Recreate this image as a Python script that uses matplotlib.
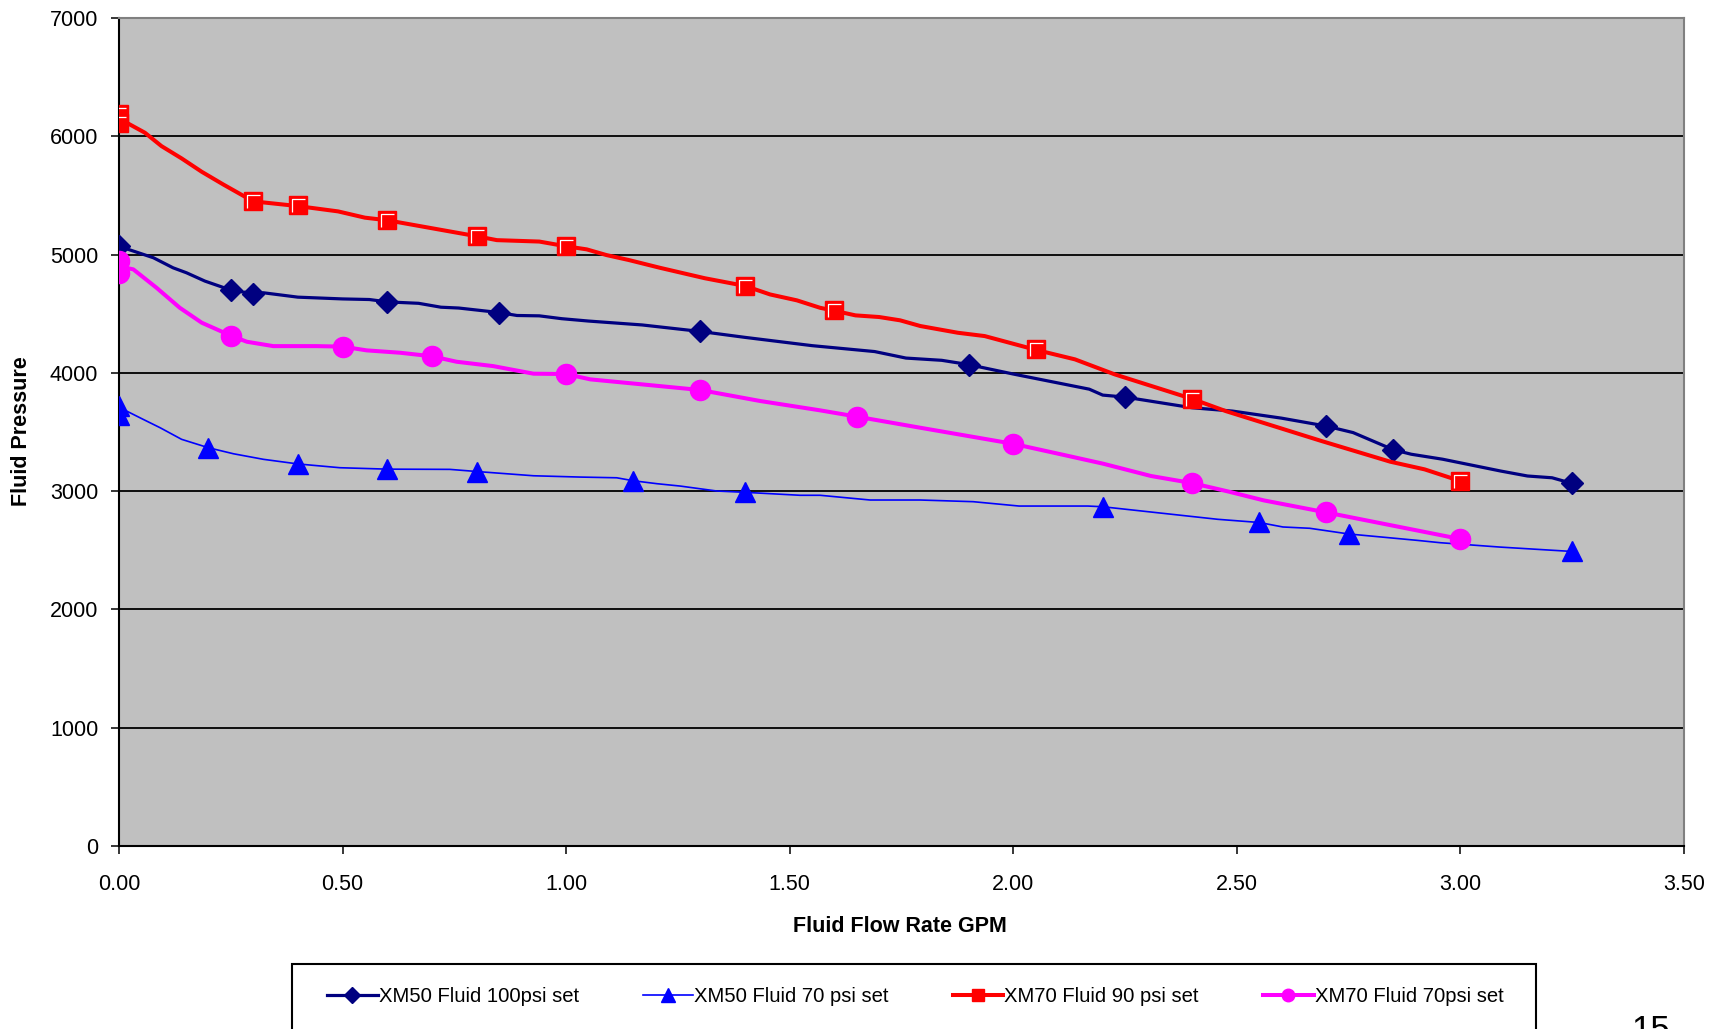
import matplotlib
matplotlib.use("Agg")
import matplotlib.pyplot as plt
from matplotlib.lines import Line2D
from matplotlib.patches import Rectangle
from matplotlib.path import Path

plt.rcParams['font.family'] = ['Liberation Sans', 'DejaVu Sans']

# ---------------- data ----------------
labels = ["XM50 Fluid 100psi set", "XM50 Fluid 70 psi set",
          "XM70 Fluid 90 psi set", "XM70 Fluid 70psi set"]

x_ticks = [0.0, 0.5, 1.0, 1.5, 2.0, 2.5, 3.0, 3.5]
y_ticks = [0, 1000, 2000, 3000, 4000, 5000, 6000, 7000]

# XM50 Fluid 100psi set
navy_x = [0.0, 0.077, 0.121, 0.151, 0.192, 0.25, 0.30, 0.323, 0.40, 0.50, 0.56, 0.60,
          0.67, 0.72, 0.76, 0.85, 0.89, 0.94, 0.99, 1.05, 1.17, 1.30, 1.40, 1.55, 1.69,
          1.76, 1.84, 1.90, 2.00, 2.17, 2.20, 2.25, 2.40, 2.49, 2.60, 2.70, 2.76, 2.85,
          2.89, 2.96, 3.09, 3.15, 3.205, 3.25]
navy_y = [5070, 4973, 4888, 4846, 4776, 4700, 4670, 4677, 4640, 4625, 4620, 4600,
          4588, 4555, 4548, 4510, 4485, 4482, 4458, 4438, 4405, 4350, 4300, 4230, 4180,
          4125, 4106, 4070, 3990, 3862, 3812, 3795, 3705, 3677, 3617, 3550, 3495, 3350,
          3312, 3270, 3170, 3128, 3113, 3065]
navy_mx = [0.0, 0.25, 0.30, 0.60, 0.85, 1.30, 1.90, 2.25, 2.70, 2.85, 3.25]
navy_my = [5070, 4700, 4670, 4600, 4510, 4350, 4070, 3795, 3550, 3350, 3065]

# XM50 Fluid 70 psi set
blue_x = [0.0, 0.017, 0.054, 0.092, 0.14, 0.20, 0.256, 0.323, 0.40, 0.494, 0.60, 0.74,
          0.80, 0.927, 1.031, 1.113, 1.15, 1.203, 1.255, 1.337, 1.40, 1.523, 1.568, 1.68,
          1.792, 1.91, 2.013, 2.167, 2.20, 2.457, 2.55, 2.603, 2.663, 2.75, 2.903, 2.955,
          3.089, 3.25]
blue_y = [3690, 3677, 3607, 3536, 3438, 3367, 3316, 3269, 3230, 3198, 3186, 3184,
          3166, 3130, 3119, 3113, 3088, 3063, 3043, 3001, 2990, 2965, 2965, 2925,
          2925, 2911, 2874, 2874, 2868, 2762, 2735, 2697, 2686, 2638, 2584, 2564,
          2527, 2490]
blue_mx = [0.0, 0.0, 0.20, 0.40, 0.60, 0.80, 1.15, 1.40, 2.20, 2.55, 2.75, 3.25]
blue_my = [3720, 3640, 3367, 3230, 3186, 3166, 3088, 2990, 2868, 2735, 2638, 2490]

# XM70 Fluid 90 psi set
red_x = [0.0, 0.058, 0.095, 0.14, 0.185, 0.233, 0.30, 0.40, 0.49, 0.55, 0.60, 0.80,
         0.845, 0.94, 1.00, 1.046, 1.09, 1.14, 1.21, 1.31, 1.40, 1.456, 1.516, 1.568,
         1.60, 1.647, 1.70, 1.747, 1.792, 1.876, 1.936, 2.05, 2.138, 2.227, 2.40, 2.475,
         2.69, 2.843, 2.92, 3.00]
red_y = [6150, 6030, 5917, 5813, 5700, 5593, 5450, 5410, 5365, 5312, 5290, 5155,
         5122, 5110, 5070, 5044, 4996, 4954, 4888, 4800, 4735, 4663, 4613, 4550,
         4525, 4486, 4472, 4444, 4396, 4339, 4311, 4195, 4114, 3987, 3780, 3677,
         3423, 3249, 3184, 3085]
red_mx = [0.0, 0.0, 0.30, 0.40, 0.60, 0.80, 1.00, 1.40, 1.60, 2.05, 2.40, 3.00]
red_my = [6190, 6110, 5455, 5420, 5295, 5160, 5075, 4738, 4530, 4200, 3780, 3085]

# XM70 Fluid 70psi set
mag_x = [0.0, 0.032, 0.084, 0.136, 0.185, 0.25, 0.286, 0.345, 0.442, 0.50, 0.554, 0.629,
         0.70, 0.755, 0.837, 0.927, 1.00, 1.054, 1.30, 1.434, 1.568, 1.65, 1.792, 2.00,
         2.107, 2.201, 2.308, 2.40, 2.483, 2.56, 2.70, 3.00]
mag_y = [4900, 4875, 4719, 4550, 4424, 4315, 4263, 4226, 4226, 4222, 4190, 4170,
         4140, 4094, 4057, 3993, 3990, 3945, 3855, 3762, 3683, 3630, 3536, 3400,
         3311, 3232, 3128, 3068, 2995, 2922, 2820, 2595]
mag_mx = [0.0, 0.0, 0.25, 0.50, 0.70, 1.00, 1.30, 1.65, 2.00, 2.40, 2.70, 3.00]
mag_my = [4945, 4840, 4315, 4222, 4140, 3990, 3855, 3630, 3400, 3068, 2820, 2595]

# ---------------- figure ----------------
W, H = 1711, 1029
fig = plt.figure(figsize=(W / 100, H / 100), dpi=100)
L, R, T, B = 119, 1684, 18, 846
ax = fig.add_axes([L / W, 1 - B / H, (R - L) / W, (B - T) / H])
ax.set_facecolor('#C0C0C0')

NAVY, BLUE, RED, MAG = '#000080', '#0000FF', '#FF0000', '#FF00FF'

ax.set_xlim(0, 3.5)
ax.set_ylim(0, 7000)
ax.set_xticks(x_ticks)
ax.set_xticklabels([f"{v:.2f}" for v in x_ticks])
ax.set_yticks(y_ticks)
ax.set_yticklabels([str(v) for v in y_ticks])
ax.yaxis.grid(True, color='black', lw=1.3)
ax.set_axisbelow(True)

for s in ['left', 'bottom']:
    ax.spines[s].set_color('black')
    ax.spines[s].set_linewidth(1.5)
for s in ['top', 'right']:
    ax.spines[s].set_color('#808080')
    ax.spines[s].set_linewidth(1.5)

ax.tick_params(axis='both', direction='out', length=6, width=1.1, labelsize=15.5,
               colors='black')
ax.tick_params(axis='y', pad=9)
ax.tick_params(axis='x', pad=14)

white_gamma = Path([(-0.62, -0.7), (-0.62, 0.62), (0.7, 0.62)],
                   [Path.MOVETO, Path.LINETO, Path.LINETO])

# navy
ax.plot(navy_x, navy_y, color=NAVY, lw=2.3, zorder=3, solid_joinstyle='round')
ax.plot(navy_mx, navy_my, ls='none', marker='D', ms=11, color=NAVY, zorder=3.1)
# blue
ax.plot(blue_x, blue_y, color=BLUE, lw=1.2, zorder=4)
ax.plot(blue_mx, blue_my, ls='none', marker='^', ms=14.5, color=BLUE, zorder=4.1)
# red
ax.plot(red_x, red_y, color=RED, lw=2.9, zorder=5, solid_joinstyle='round')
ax.plot(red_mx, red_my, ls='none', marker='s', ms=13.5, color=RED, zorder=5.1)
ax.plot(red_mx, red_my, ls='none', marker=white_gamma, ms=10.5, mfc='none',
        mec='white', mew=0.9, zorder=5.2)
# magenta
ax.plot(mag_x, mag_y, color=MAG, lw=2.9, zorder=6, solid_joinstyle='round')
ax.plot(mag_mx, mag_my, ls='none', marker='o', ms=14.5, color=MAG, zorder=6.1)

# axis titles
fig.text(900 / W, 1 - 926 / H, "Fluid Flow Rate GPM", ha='center', va='center',
         fontsize=15.5, fontweight='bold')
fig.text(22 / W, 1 - 431 / H, "Fluid Pressure", ha='center', va='center',
         rotation=90, fontsize=15.5, fontweight='bold')

# legend box
fig.patches.append(Rectangle((292 / W, 1 - 1040 / H), (1536 - 292) / W, (1040 - 964) / H,
                             transform=fig.transFigure, facecolor='white',
                             edgecolor='black', lw=1.5, zorder=0))
handles = [
    Line2D([], [], color=NAVY, lw=2.3, marker='D', ms=8),
    Line2D([], [], color=BLUE, lw=1.2, marker='^', ms=10),
    Line2D([], [], color=RED, lw=2.9, marker='s', ms=8),
    Line2D([], [], color=MAG, lw=2.9, marker='o', ms=9),
]
fig.legend(handles, labels, loc='center left', bbox_to_anchor=(327 / W, 1 - 997 / H),
           ncol=4, frameon=False, fontsize=14.6, handlelength=2.5, handletextpad=0.05,
           columnspacing=3.15, borderpad=0, borderaxespad=0)

fig.text(1651 / W, 1 - 1014 / H, "15", ha='center', va='top', fontsize=25)

fig.savefig("out.png", dpi=100)
